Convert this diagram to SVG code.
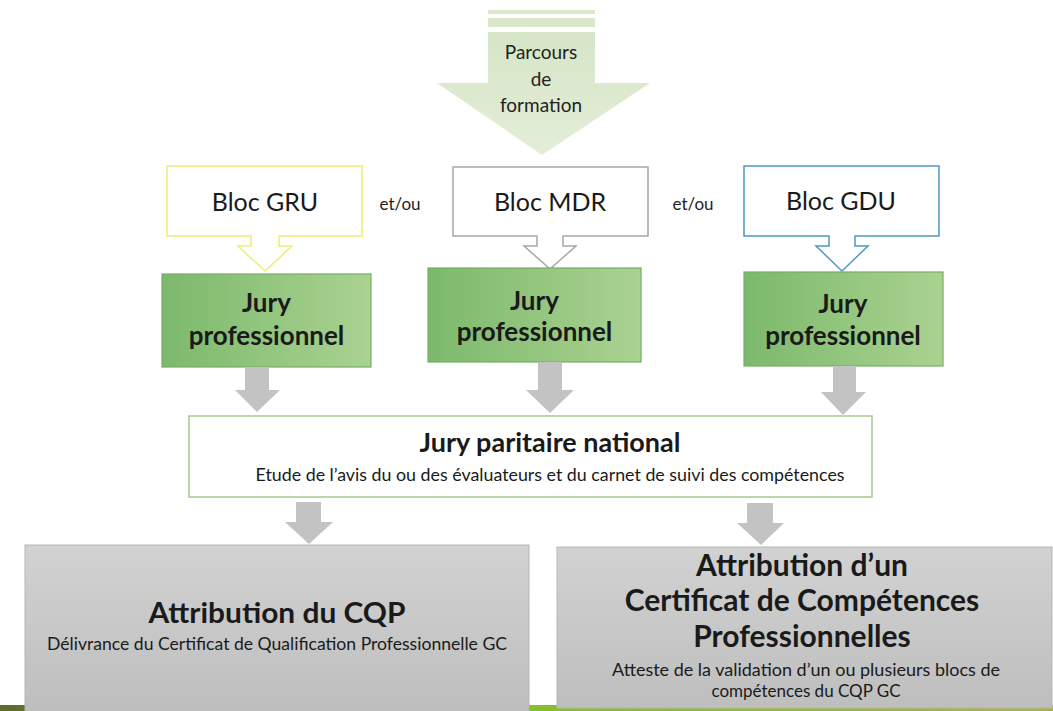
<svg xmlns="http://www.w3.org/2000/svg" width="1053" height="711" viewBox="0 0 1053 711">
<style>
text{font-family:Lato,"Open Sans","Liberation Sans",sans-serif;fill:#1a1a1a;text-anchor:middle}
.bloc{font-size:25px}
.et{font-size:17px;fill:#222}
.jury{font-size:26px;font-weight:bold}
.sub{font-size:17px}
.big{font-size:28px;font-weight:bold}
.big2{font-size:30px;font-weight:bold}
.pf{font-size:19px;fill:#222}
.jp{fill:url(#gJury);stroke:#74ad62;stroke-width:1.2}
.garrow{fill:#c3c3c3}
.gbox{fill:url(#gGray);stroke:#b5b5b5;stroke-width:1}
</style>
<defs>
<linearGradient id="gJury" x1="0" y1="0" x2="1" y2="0">
<stop offset="0" stop-color="#7cb96c"/><stop offset="1" stop-color="#aad291"/>
</linearGradient>
<linearGradient id="gGray" x1="0" y1="0" x2="0" y2="1">
<stop offset="0" stop-color="#d2d2d2"/><stop offset="1" stop-color="#bebebe"/>
</linearGradient>
<linearGradient id="gTop" x1="0" y1="0" x2="0" y2="1">
<stop offset="0" stop-color="#d6e5c6"/><stop offset="1" stop-color="#e3eed8"/>
</linearGradient>
<linearGradient id="gBand" x1="0" y1="0" x2="1" y2="0">
<stop offset="0" stop-color="#5f6b2c"/><stop offset="0.5" stop-color="#86bf2c"/><stop offset="1" stop-color="#a9b247"/>
</linearGradient>
</defs>

<rect x="0" y="0" width="1053" height="711" fill="#ffffff"/>
<rect x="0" y="705" width="1053" height="6" fill="url(#gBand)"/>

<g id="parcours">
<rect x="488" y="10" width="107" height="4" fill="#d9e7cb"/>
<rect x="488" y="18" width="107" height="9" fill="#d9e7cb"/>
<path d="M488,32 H595 V83 H650 L542,155 L437,83 H488 Z" fill="url(#gTop)"/>
<text class="pf" x="541" y="59">Parcours</text>
<text class="pf" x="541" y="86">de</text>
<text class="pf" x="541" y="112">formation</text>
</g>

<g id="bloc-gru">
<path d="M167,166 H362 V236 H279 V246 H292 L265,271 L238,246 H251 V236 H167 Z" fill="#fff" stroke="#f0ec74" stroke-width="1.5"/>
<text class="bloc" x="265" y="211">Bloc GRU</text>
</g>
<text class="et" x="400" y="210">et/ou</text>
<g id="bloc-mdr">
<path d="M453,167 H648 V236 H563 V246 H576 L550,269 L524,246 H537 V236 H453 Z" fill="#fff" stroke="#a6a6a6" stroke-width="1.5"/>
<text class="bloc" x="550" y="211">Bloc MDR</text>
</g>
<text class="et" x="693" y="210">et/ou</text>
<g id="bloc-gdu">
<path d="M744,166 H939 V236 H855 V246 H868 L842,271 L816,246 H829 V236 H744 Z" fill="#fff" stroke="#4f98c2" stroke-width="1.5"/>
<text class="bloc" x="841" y="210">Bloc GDU</text>
</g>

<g id="jury1">
<rect class="jp" x="162" y="274" width="209" height="93"/>
<text class="jury" x="266.5" y="312">Jury</text>
<text class="jury" x="266.5" y="345">professionnel</text>
</g>
<g id="jury2">
<rect class="jp" x="428" y="268" width="213" height="94"/>
<text class="jury" x="534.5" y="310">Jury</text>
<text class="jury" x="534.5" y="341">professionnel</text>
</g>
<g id="jury3">
<rect class="jp" x="744" y="272" width="199" height="94"/>
<text class="jury" x="843" y="313">Jury</text>
<text class="jury" x="843" y="345">professionnel</text>
</g>

<g id="connectors">
<path class="garrow" d="M245,367 H269 V390 H280 L257,412 L235,390 H245 Z"/>
<path class="garrow" d="M538,362 H562 V390 H574 L550,413 L526,390 H538 Z"/>
<path class="garrow" d="M833,366 H856 V392 H866 L843,415 L821,392 H833 Z"/>
<path class="garrow" d="M296,502 H321 V522 H333 L309,544 L285,522 H296 Z"/>
<path class="garrow" d="M747,503 H773 V523 H784 L761,545 L737,523 H747 Z"/>
</g>

<g id="jury-paritaire">
<rect x="189" y="416" width="683" height="81" fill="#fff" stroke="#a9c78f" stroke-width="1.5"/>
<text class="jury" x="550" y="452" font-size="24" textLength="261" lengthAdjust="spacingAndGlyphs">Jury paritaire national</text>
<text class="sub" x="550" y="481" textLength="589" lengthAdjust="spacingAndGlyphs">Etude de l’avis du ou des évaluateurs et du carnet de suivi des compétences</text>
</g>

<g id="attribution-cqp">
<rect class="gbox" x="25" y="545" width="504" height="167"/>
<text class="big" x="277" y="623" textLength="257" lengthAdjust="spacingAndGlyphs">Attribution du CQP</text>
<text class="sub" x="277" y="650" textLength="460" lengthAdjust="spacingAndGlyphs">Délivrance du Certificat de Qualification Professionnelle GC</text>
</g>

<g id="attribution-ccp">
<rect class="gbox" x="557" y="547" width="495" height="161"/>
<text class="big2" x="802" y="576">Attribution d’un</text>
<text class="big2" x="802" y="611">Certificat de Compétences</text>
<text class="big2" x="802" y="647">Professionnelles</text>
<text class="sub" x="806" y="676" textLength="388" lengthAdjust="spacingAndGlyphs">Atteste de la validation d’un ou plusieurs blocs de</text>
<text class="sub" x="806" y="697">compétences du CQP GC</text>
</g>
</svg>
